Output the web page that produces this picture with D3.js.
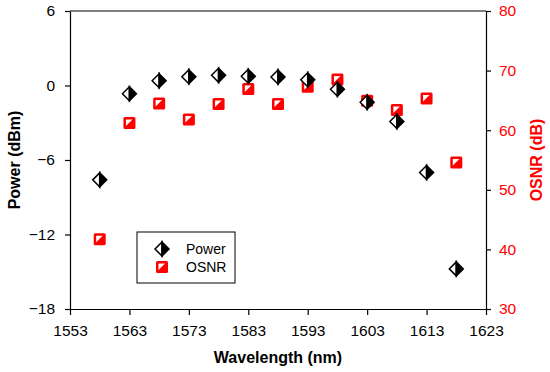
<!DOCTYPE html>
<html>
<head>
<meta charset="utf-8">
<script src="https://cdn.jsdelivr.net/npm/d3@7"></script>
<style>
  body { margin: 0; background: #fff; }
  svg { font-family: "Liberation Sans", Arial, sans-serif; }
  .label { font-size: 16px; font-weight: bold; }
</style>
</head>
<body>
<svg width="550" height="372"></svg>
<script>
// data
const wavelength = [1558, 1563, 1568, 1573, 1578, 1583, 1588, 1593, 1598, 1603, 1608, 1613, 1618];
const power = [-7.6, -0.66, 0.39, 0.71, 0.82, 0.74, 0.69, 0.47, -0.3, -1.35, -2.9, -7.0, -14.77];
const osnr = [41.7, 61.2, 64.5, 61.8, 64.4, 66.9, 64.4, 67.3, 68.5, 64.95, 63.4, 65.3, 54.6];
const xTicks = [1553, 1563, 1573, 1583, 1593, 1603, 1613, 1623];
const yTicks = [-18, -12, -6, 0, 6];
const y2Ticks = [30, 40, 50, 60, 70, 80];

const svg = d3.select('svg');
const plotLeft = 70, plotRight = 486, plotTop = 11, plotBottom = 309;

const x = d3.scaleLinear().domain([1553, 1623]).range([plotLeft, plotRight]);
const y = d3.scaleLinear().domain([-18, 6]).range([plotBottom, plotTop]);
const y2 = d3.scaleLinear().domain([30, 80]).range([plotBottom, plotTop]);

// top frame line
svg.append('line')
  .attr('x1', plotLeft).attr('x2', plotRight)
  .attr('y1', plotTop).attr('y2', plotTop)
  .attr('stroke', '#000').attr('stroke-width', 1.2);

const axisX = svg.append('g')
  .attr('transform', `translate(0, ${plotBottom})`)
  .call(d3.axisBottom(x).tickValues(xTicks).tickFormat(d3.format('d')).tickSize(6).tickSizeOuter(0).tickPadding(10));

const axisY = svg.append('g')
  .attr('transform', `translate(${plotLeft}, 0)`)
  .call(d3.axisLeft(y).tickValues(yTicks).tickFormat(d3.format('d')).tickSize(5).tickSizeOuter(0).tickPadding(10));

const axisY2 = svg.append('g')
  .attr('transform', `translate(${plotRight}, 0)`)
  .call(d3.axisRight(y2).tickValues(y2Ticks).tickSize(5).tickSizeOuter(0).tickPadding(8));

svg.selectAll('.domain, .tick line').attr('stroke', '#000').attr('stroke-width', 1.2);
svg.selectAll('.tick text').attr('fill', '#000').style('font-size', '15.5px');
axisY2.selectAll('.tick text').attr('fill', '#ff0000');

// marker shapes
function drawDiamond(g) {
  g.append('path').attr('d', 'M0,-7L-7,0L0,7Z').attr('fill', '#fff').attr('stroke', '#000').attr('stroke-width', 1.5);
  g.append('path').attr('d', 'M0,-7L7,0L0,7Z').attr('fill', '#000').attr('stroke', '#000').attr('stroke-width', 1.5);
}
function drawSquare(g) {
  g.append('rect').attr('x', -6).attr('y', -6).attr('width', 12).attr('height', 12)
    .attr('rx', 1.5).attr('fill', '#ff0000');
  g.append('path').attr('d', 'M-3.5,-3.5L3,-3.5L-3.5,3Z').attr('fill', '#fff');
}

// OSNR series
svg.append('g').selectAll('g')
  .data(wavelength.map((w, i) => ({ w, v: osnr[i] })))
  .enter().append('g')
  .attr('transform', d => `translate(${x(d.w)}, ${y2(d.v)})`)
  .each(function () { drawSquare(d3.select(this)); });

// Power series
svg.append('g').selectAll('g')
  .data(wavelength.map((w, i) => ({ w, v: power[i] })))
  .enter().append('g')
  .attr('transform', d => `translate(${x(d.w)}, ${y(d.v)})`)
  .each(function () { drawDiamond(d3.select(this)); });

// legend
const legend = svg.append('g');
legend.append('rect')
  .attr('x', 137).attr('y', 232).attr('width', 98).attr('height', 51)
  .attr('fill', '#fff').attr('stroke', '#000').attr('stroke-width', 1);
drawDiamond(legend.append('g').attr('transform', 'translate(162, 249)'));
drawSquare(legend.append('g').attr('transform', 'translate(162, 267)'));
legend.append('text').attr('x', 186).attr('y', 254).style('font-size', '14px').text('Power');
legend.append('text').attr('x', 186).attr('y', 272).style('font-size', '14px').text('OSNR');

// axis titles
svg.append('text')
  .attr('class', 'label')
  .attr('x', (plotLeft + plotRight) / 2)
  .attr('y', 363)
  .attr('text-anchor', 'middle')
  .text('Wavelength (nm)');

svg.append('text')
  .attr('class', 'label')
  .attr('transform', `translate(20, ${(plotTop + plotBottom) / 2}) rotate(-90)`)
  .attr('text-anchor', 'middle')
  .text('Power (dBm)');

svg.append('text')
  .attr('class', 'label')
  .attr('fill', '#ff0000')
  .attr('transform', `translate(542, ${(plotTop + plotBottom) / 2}) rotate(-90)`)
  .attr('text-anchor', 'middle')
  .text('OSNR (dB)');
</script>
</body>
</html>
